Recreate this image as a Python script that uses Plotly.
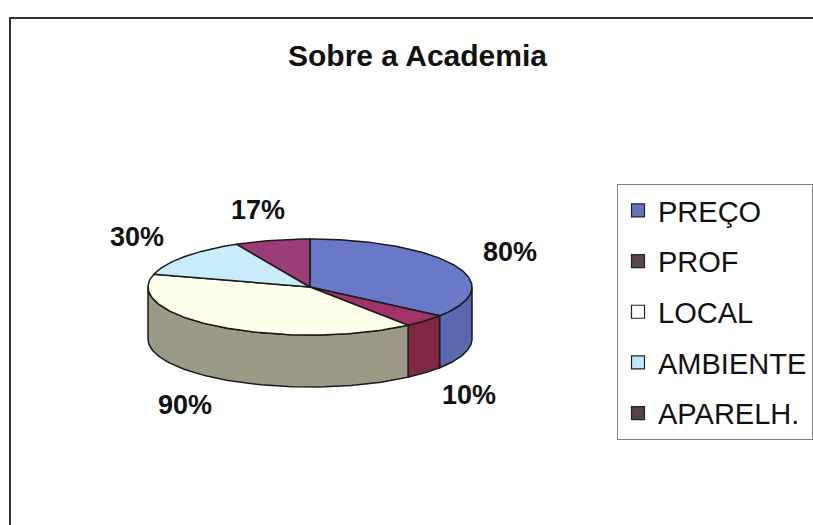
import numpy as np
import plotly.graph_objects as go

# ---- data ----
categories = ["PREÇO", "PROF", "LOCAL", "AMBIENTE", "APARELH."]
values = [80, 10, 90, 30, 17]
label_texts = ["80%", "10%", "90%", "30%", "17%"]
title_text = "Sobre a Academia"

# ---- styles ----
top_colors = ["#6a78c8", "#a0336a", "#ffffea", "#c8ecfa", "#9a3c76"]
side_colors = ["#5a68b0", "#80283f", "#9a9a86", "#a8c8d8", "#7a2c5c"]
legend_colors = ["#6674c0", "#5c4452", "#ffffff", "#c0e8f8", "#54424f"]

W, H = 813, 525
PX = 162.0             # pixels per data unit
CX, CY = 310.0, 287.0  # pie centre in pixels
RY = 48.0 / PX         # vertical radius (perspective)
DEPTH = 52.0 / PX      # thickness of the 3-D pie
FONT = "Liberation Sans, Arial, sans-serif"

fig = go.Figure()

vals = np.array(values, dtype=float)
span = vals / vals.sum() * 360.0
ends = 90.0 - np.cumsum(span)
starts = ends + span

# side walls (front part only)
for i in range(len(categories)):
    a, b = starts[i], ends[i]
    hi, lo = min(a, 0.0), max(b, -180.0)
    if hi > lo:
        t = np.radians(np.linspace(hi, lo, 80))
        xs = np.concatenate([np.cos(t), np.cos(t[::-1])])
        ys = np.concatenate([RY * np.sin(t), RY * np.sin(t[::-1]) - DEPTH])
        fig.add_trace(go.Scatter(x=np.append(xs, xs[0]), y=np.append(ys, ys[0]),
                                 mode="lines", fill="toself", fillcolor=side_colors[i],
                                 line=dict(color="#1a1a1a", width=1.5),
                                 hoverinfo="skip", showlegend=False))

# top faces
for i in range(len(categories)):
    t = np.radians(np.linspace(starts[i], ends[i], 120))
    xs = np.concatenate([[0.0], np.cos(t), [0.0]])
    ys = np.concatenate([[0.0], RY * np.sin(t), [0.0]])
    fig.add_trace(go.Scatter(x=xs, y=ys, mode="lines", fill="toself",
                             fillcolor=top_colors[i],
                             line=dict(color="#1a1a1a", width=1.5),
                             name=categories[i], hoverinfo="text",
                             text=f"{categories[i]}: {label_texts[i]}",
                             showlegend=False))

# data labels
for i in range(len(categories)):
    m = np.radians((starts[i] + ends[i]) / 2.0)
    lx = 1.38 * np.cos(m)
    ly = 1.65 * RY * np.sin(m) - (DEPTH if np.sin(m) < 0 else 0.0)
    fig.add_annotation(x=lx, y=ly, text=f"<b>{label_texts[i]}</b>", showarrow=False,
                       font=dict(family=FONT, size=27, color="#111111"),
                       xanchor="center", yanchor="middle")

# legend entries
for i, c in enumerate(categories):
    fig.add_trace(go.Scatter(x=[None], y=[None], mode="markers", name=c,
                             legendgroup=c,
                             marker=dict(symbol="square", size=13, color=legend_colors[i],
                                         line=dict(color="#222222", width=1.2))))

# outer frame of the chart area
fig.add_shape(type="rect", xref="paper", yref="paper",
              x0=10 / W, x1=1.02, y0=-0.02, y1=1 - 18 / H,
              line=dict(color="#333333", width=2), fillcolor="rgba(0,0,0,0)", layer="below")

fig.update_layout(
    width=W, height=H,
    margin=dict(l=0, r=0, t=0, b=0),
    paper_bgcolor="white", plot_bgcolor="white",
    title=dict(text=f"<b>{title_text}</b>", x=417.5 / W, xanchor="center",
               y=1 - 55 / H, yanchor="middle",
               font=dict(family=FONT, size=30, color="#111111")),
    xaxis=dict(range=[-CX / PX, (W - CX) / PX], visible=False, fixedrange=True),
    yaxis=dict(range=[-(H - CY) / PX, CY / PX], visible=False, fixedrange=True),
    showlegend=True,
    legend=dict(x=617 / W, y=1 - 184 / H, xanchor="left", yanchor="top",
                bgcolor="white", bordercolor="#808080", borderwidth=1,
                font=dict(family=FONT, size=29, color="#111111"),
                tracegroupgap=10, itemwidth=30),
)

fig.write_html("out.html")
